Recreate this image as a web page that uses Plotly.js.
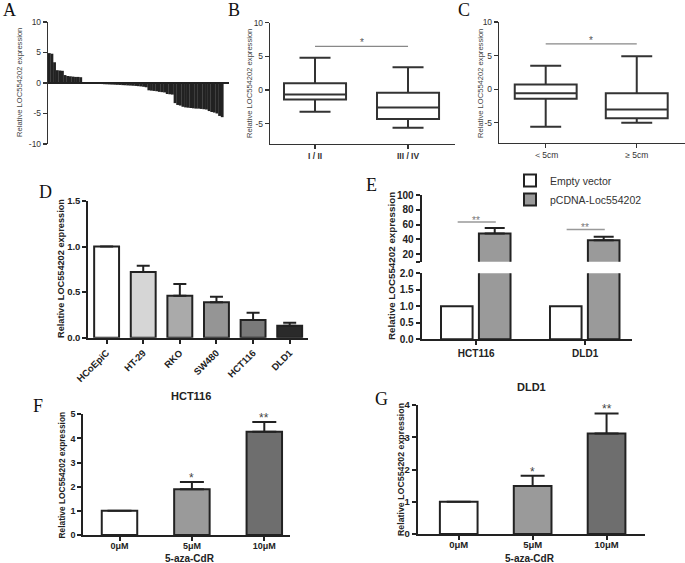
<!DOCTYPE html>
<html><head><meta charset="utf-8">
<script src="https://cdn.plot.ly/plotly-3.0.1.min.js"></script>
<style>html,body{margin:0;padding:0;background:#fff}#chart{width:685px;height:563px}</style>
</head><body><div id="chart"></div>
<script>
// ---------- DATA ----------
// Panel A: waterfall of relative expression per sample
const aValues = [4.9,4.8,3.4,2.1,2.05,2.0,1.3,1.15,1.1,1.05,1.0,1.0,0.95,
  0.05,0.02,-0.03,-0.06,
  -0.1,-0.12,-0.15,-0.17,-0.2,-0.22,-0.24,-0.26,-0.28,-0.3,-0.32,-0.35,-0.37,-0.4,-0.42,-0.45,-0.48,-0.52,-0.56,-0.62,-0.7,
  -1.2,-1.25,-1.3,-1.35,
  -1.45,-1.5,-1.55,
  -1.8,-1.85,-1.9,
  -3.3,-3.6,-3.7,
  -3.9,-4.0,
  -4.05,-4.1,-4.15,
  -4.2,-4.2,-4.25,-4.3,-4.35,
  -4.6,-4.75,-4.85,-5.0,
  -5.4,-5.6];
const abcTicks = [-10,-5,0,5,10];
const abcTickText = ['-10','-5','0','5','10'];

// Panel B: TNM stage
const bCats = ['I / II','III / IV'];
const bUpper = [4.8,3.4];
const bQ3 = [1.0,-0.4];
const bMedian = [-0.65,-2.6];
const bQ1 = [-1.4,-4.3];
const bLower = [-3.2,-5.6];
const bSig = 6.5;

// Panel C: tumour size
const cCats = ['\uFF1C5cm','\u2265 5cm'];
const cUpper = [3.5,4.9];
const cQ3 = [0.7,-0.6];
const cMedian = [-0.6,-3.0];
const cQ1 = [-1.4,-4.3];
const cLower = [-5.6,-5.0];
const cSig = 6.75;

// Panel D: cell lines
const dCats = ['HCoEpiC','HT-29','RKO','SW480','HCT116','DLD1'];
const dValues = [1.0,0.72,0.46,0.39,0.195,0.13];
const dErr = [0,0.07,0.128,0.06,0.08,0.035];
const dTicks = [0,0.5,1.0,1.5];
const dTickText = ['0.0','0.5','1.0','1.5'];

// Panel E: overexpression
const eCats = ['HCT116','DLD1'];
const eSeries = ['Empty vector','pCDNA-Loc554202'];
const eEmpty = [1,1];
const eOver = [48,39];
const eOverErr = [7.5,4.5];
const eSig = [63.4,53.5];
const eSigText = ['**','**'];
const eLowTicks = [0,0.5,1.0,1.5,2.0];
const eLowTickText = ['0.0','0.5','1.0','1.5','2.0'];
const eHighTicks = [10,20,40,60,80,100];
const eHighTickText = ['','20','40','60','80','100'];

// Panels F & G: 5-aza-CdR treatment
const fgCats = ['0\u03bcM','5\u03bcM','10\u03bcM'];
const fValues = [1,1.9,4.28];
const fErr = [0,0.3,0.4];
const gValues = [1,1.49,3.12];
const gErr = [0,0.32,0.62];
const fgSig = ['','*','**'];
const fTicks = [0,1,2,3,4,5];
const gTicks = [0,1,2,3,4];

// ---------- STYLE ----------
const W = 685, H = 563;
const px = x => x / W;
const py = y => 1 - y / H;
const SANS = 'Liberation Sans, Arial, sans-serif';
const SERIF = 'Liberation Serif, Times New Roman, serif';
const dark = '#222';
const dColors = ['#ffffff','#d6d6d6','#aaaaaa','#959595','#7a7a7a','#2a2a2a'];
const fgColors = ['#ffffff','#9a9a9a','#6e6e6e'];
const idx = arr => arr.map((_, i) => i);
const zeros = arr => arr.map(() => 0);

const thinAxis = {showline:true, linecolor:'#333', linewidth:1.2, ticks:'outside', ticklen:4, tickwidth:1.2,
  tickcolor:'#333', showgrid:false, zeroline:false, tickfont:{family:SANS, size:8.5, color:'#333'}, fixedrange:true};
const boldAxis = {showline:true, linecolor:dark, linewidth:2, ticks:'outside', ticklen:4, tickwidth:2,
  tickcolor:dark, showgrid:false, zeroline:false, tickfont:{family:SANS, size:9.5, color:'#222', weight:'bold'}, fixedrange:true};

const traces = [];
// A
traces.push({type:'bar', x:idx(aValues), y:aValues, width:1.08, xaxis:'x', yaxis:'y',
  marker:{color:'#222', line:{width:0}}, showlegend:false, hoverinfo:'y'});
// B
traces.push({type:'box', x:idx(bCats), q1:bQ1, median:bMedian, q3:bQ3, lowerfence:bLower, upperfence:bUpper,
  width:0.667, whiskerwidth:0.5, xaxis:'x2', yaxis:'y2', fillcolor:'#fff', line:{color:'#333', width:2},
  boxpoints:false, showlegend:false});
// C
traces.push({type:'box', x:idx(cCats), q1:cQ1, median:cMedian, q3:cQ3, lowerfence:cLower, upperfence:cUpper,
  width:0.68, whiskerwidth:0.5, xaxis:'x3', yaxis:'y3', fillcolor:'#fff', line:{color:'#333', width:2},
  boxpoints:false, showlegend:false});
// D
traces.push({type:'bar', x:idx(dCats), y:dValues, width:0.68, xaxis:'x4', yaxis:'y4',
  marker:{color:dColors, line:{color:dark, width:2}}, showlegend:false,
  error_y:{type:'data', symmetric:false, array:dErr, arrayminus:zeros(dErr), color:dark, thickness:2, width:6.5}});
// E lower
traces.push({type:'bar', name:eSeries[0], x:idx(eCats), y:eEmpty, width:0.29, offset:-0.323, xaxis:'x5', yaxis:'y5',
  marker:{color:'#fff', line:{color:dark, width:2}}, showlegend:true, legendrank:1});
traces.push({type:'bar', name:eSeries[1], x:idx(eCats), y:eOver, width:0.29, offset:0.025, xaxis:'x5', yaxis:'y5',
  marker:{color:'#9a9a9a', line:{color:dark, width:2}}, showlegend:true, legendrank:2});
// E upper
traces.push({type:'bar', name:eSeries[1], x:idx(eCats), y:eOver, width:0.29, offset:0.025, xaxis:'x5', yaxis:'y6',
  marker:{color:'#9a9a9a', line:{color:dark, width:2}}, showlegend:false,
  error_y:{type:'data', symmetric:false, array:eOverErr, arrayminus:zeros(eOverErr), color:dark, thickness:2, width:10}});
// F
traces.push({type:'bar', x:idx(fgCats), y:fValues, width:0.49, xaxis:'x7', yaxis:'y7',
  marker:{color:fgColors, line:{color:dark, width:2}}, showlegend:false,
  error_y:{type:'data', symmetric:false, array:fErr, arrayminus:zeros(fErr), color:dark, thickness:2, width:12}});
// G
traces.push({type:'bar', x:idx(fgCats), y:gValues, width:0.51, xaxis:'x8', yaxis:'y8',
  marker:{color:fgColors, line:{color:dark, width:2}}, showlegend:false,
  error_y:{type:'data', symmetric:false, array:gErr, arrayminus:zeros(gErr), color:dark, thickness:2, width:12}});

// ---------- ANNOTATIONS ----------
const ann = [];
const letter = (t, x, y) => ann.push({text:t, xref:'paper', yref:'paper', x:px(x), y:py(y), xanchor:'center', yanchor:'middle',
  showarrow:false, font:{family:SERIF, size:18, color:'#111'}});
letter('A', 9, 10); letter('B', 233.5, 10); letter('C', 463.5, 10);
letter('D', 45, 191.5); letter('E', 371, 185); letter('F', 38, 406); letter('G', 381.5, 399);

const ytitle = (x, y, size, bold, color) => ann.push({text:'Relative LOC554202 expression', xref:'paper', yref:'paper',
  x:px(x), y:py(y), xanchor:'center', yanchor:'middle', textangle:-90, showarrow:false,
  font:{family:SANS, size:size, color:color, weight: bold ? 'bold' : 'normal'}});
ytitle(20, 83, 7.6, false, '#444');
ytitle(249, 84, 7.6, false, '#444');
ytitle(480, 84, 7.6, false, '#444');
ytitle(61, 269, 9.2, true, '#222');
ytitle(391, 266, 9.8, true, '#222');
ytitle(61.5, 475, 8.4, true, '#222');
ytitle(401, 470, 8.8, true, '#222');

// significance stars
ann.push({text:'*', xref:'x2', yref:'y2', x:0.5, y:bSig, yanchor:'bottom', yshift:-4, showarrow:false, font:{family:SANS, size:10, color:'#555'}});
ann.push({text:'*', xref:'x3', yref:'y3', x:0.5, y:cSig, yanchor:'bottom', yshift:-4, showarrow:false, font:{family:SANS, size:10, color:'#555'}});
eCats.forEach((c, i) => ann.push({text:eSigText[i], xref:'x5', yref:'y6', x:i, y:eSig[i], yanchor:'bottom', yshift:-6,
  showarrow:false, font:{family:SANS, size:10, color:'#777'}}));
fgCats.forEach((c, i) => {
  if (!fgSig[i]) return;
  ann.push({text:fgSig[i], xref:'x7', yref:'y7', x:i, y:fValues[i] + fErr[i], yanchor:'bottom', yshift:-5,
    showarrow:false, font:{family:SANS, size:12, color:'#444'}});
  ann.push({text:fgSig[i], xref:'x8', yref:'y8', x:i, y:gValues[i] + gErr[i], yanchor:'bottom', yshift:-5,
    showarrow:false, font:{family:SANS, size:12, color:'#444'}});
});
// panel titles & x titles
ann.push({text:'HCT116', xref:'paper', yref:'paper', x:px(190.7), y:py(396), xanchor:'center', yanchor:'middle', showarrow:false,
  font:{family:SANS, size:11, color:'#222', weight:'bold'}});
ann.push({text:'DLD1', xref:'paper', yref:'paper', x:px(531.7), y:py(387.3), xanchor:'center', yanchor:'middle', showarrow:false,
  font:{family:SANS, size:11, color:'#222', weight:'bold'}});
ann.push({text:'5-aza-CdR', xref:'paper', yref:'paper', x:px(190), y:py(558.5), xanchor:'center', yanchor:'middle', showarrow:false,
  font:{family:SANS, size:10, color:'#222', weight:'bold'}});
ann.push({text:'5-aza-CdR', xref:'paper', yref:'paper', x:px(530), y:py(558.5), xanchor:'center', yanchor:'middle', showarrow:false,
  font:{family:SANS, size:10, color:'#222', weight:'bold'}});

// ---------- SHAPES (significance bars) ----------
const shapes = [
  {type:'line', xref:'x2', yref:'y2', x0:0, x1:1, y0:bSig, y1:bSig, line:{color:'#888', width:1.2}},
  {type:'line', xref:'x3', yref:'y3', x0:0, x1:1, y0:cSig, y1:cSig, line:{color:'#888', width:1.2}}
];
eCats.forEach((c, i) => shapes.push({type:'line', xref:'x5', yref:'y6', x0:i - 0.17, x1:i + 0.18, y0:eSig[i], y1:eSig[i],
  line:{color:'#999', width:1.5}}));

const layout = {
  width:W, height:H, margin:{l:0, r:0, t:0, b:0}, paper_bgcolor:'#fff', plot_bgcolor:'rgba(0,0,0,0)',
  barmode:'overlay', font:{family:SANS},
  showlegend:true,
  legend:{x:px(510), y:py(166), xanchor:'left', yanchor:'top', font:{family:SANS, size:10.5, color:'#333'},
    bgcolor:'rgba(0,0,0,0)', tracegroupgap:0, itemwidth:30, traceorder:'normal'},
  xaxis:{domain:[px(48), px(229)], range:[-0.5, 68.6], anchor:'y', visible:false, fixedrange:true},
  yaxis:Object.assign({}, thinAxis, {domain:[py(144), py(22)], range:[-10, 10], anchor:'x', tickvals:abcTicks, ticktext:abcTickText,
    zeroline:true, zerolinecolor:'#222', zerolinewidth:1.2}),
  xaxis2:Object.assign({}, thinAxis, {domain:[px(270), px(455)], range:[-0.484, 1.505], anchor:'y2', tickvals:idx(bCats), ticktext:bCats,
    tickfont:{family:SANS, size:8.5, color:'#333', weight:'bold'}}),
  yaxis2:Object.assign({}, thinAxis, {domain:[py(144), py(22.7)], range:[-8, 10], anchor:'x2', tickvals:abcTicks.slice(1), ticktext:abcTickText.slice(1)}),
  xaxis3:Object.assign({}, thinAxis, {domain:[px(499), 1], range:[-0.513, 1.53], anchor:'y3', tickvals:idx(cCats), ticktext:cCats}),
  yaxis3:Object.assign({}, thinAxis, {domain:[py(143), py(22)], range:[-8, 10], anchor:'x3', tickvals:abcTicks.slice(1), ticktext:abcTickText.slice(1)}),
  xaxis4:Object.assign({}, boldAxis, {domain:[px(88.3), px(308)], range:[-0.5, 5.5], anchor:'y4', tickvals:idx(dCats), ticktext:dCats,
    tickangle:-45, tickfont:{family:SANS, size:9.5, color:'#222', weight:'bold'}}),
  yaxis4:Object.assign({}, boldAxis, {domain:[py(337.7), py(201)], range:[0, 1.5], anchor:'x4', tickvals:dTicks, ticktext:dTickText}),
  xaxis5:Object.assign({}, boldAxis, {domain:[px(421.7), px(631.7)], range:[-0.5, 1.427], anchor:'y5', tickvals:idx(eCats), ticktext:eCats,
    tickfont:{family:SANS, size:10, color:'#222', weight:'bold'}}),
  yaxis5:Object.assign({}, boldAxis, {domain:[py(339.3), py(273.3)], range:[0, 2], anchor:'x5', tickvals:eLowTicks, ticktext:eLowTickText,
    tickfont:{family:SANS, size:10, color:'#222', weight:'bold'}}),
  yaxis6:Object.assign({}, boldAxis, {domain:[py(261.7), py(195)], range:[10, 100], anchor:'x5', tickvals:eHighTicks, ticktext:eHighTickText,
    tickfont:{family:SANS, size:10, color:'#222', weight:'bold'}}),
  xaxis7:Object.assign({}, boldAxis, {domain:[px(83.3), px(290)], range:[-0.5, 2.355], anchor:'y7', tickvals:idx(fgCats), ticktext:fgCats,
    ticklabelstandoff:-3, tickfont:{family:SANS, size:9, color:'#222', weight:'bold'}}),
  yaxis7:Object.assign({}, boldAxis, {domain:[py(535), py(414.3)], range:[0, 5], anchor:'x7', tickvals:fTicks, ticktext:fTicks.map(String),
    tickfont:{family:SANS, size:9, color:'#222', weight:'bold'}}),
  xaxis8:Object.assign({}, boldAxis, {domain:[px(417.7), px(645)], range:[-0.555, 2.52], anchor:'y8', tickvals:idx(fgCats), ticktext:fgCats,
    ticklabelstandoff:-3, tickfont:{family:SANS, size:9.5, color:'#222', weight:'bold'}}),
  yaxis8:Object.assign({}, boldAxis, {domain:[py(534), py(405)], range:[0, 4], anchor:'x8', tickvals:gTicks, ticktext:gTicks.map(String),
    tickfont:{family:SANS, size:9.5, color:'#222', weight:'bold'}}),
  annotations:ann,
  shapes:shapes
};

Plotly.newPlot('chart', traces, layout, {staticPlot:true, displayModeBar:false});
</script>
</body></html>
